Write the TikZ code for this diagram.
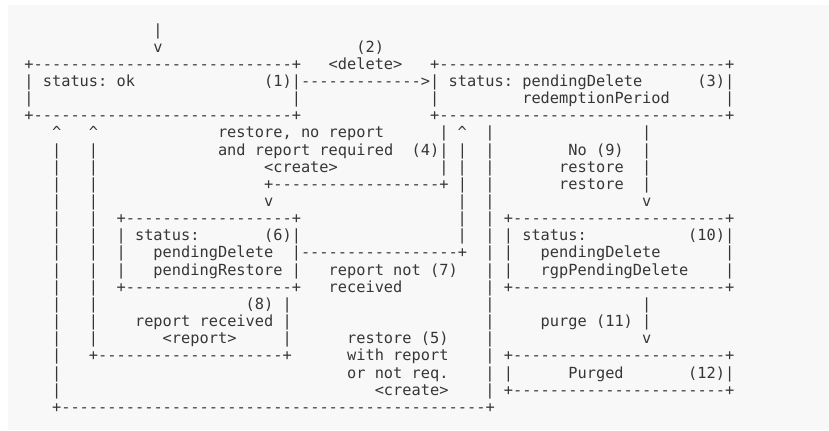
\documentclass[tikz,border=0pt]{standalone}
\usepackage{fontspec}
\setmonofont{DejaVu Sans Mono}
\usepackage{tikz}
\usetikzlibrary{
	calc,
	backgrounds,
}
\definecolor{asciiink}{HTML}{363636}
\definecolor{asciipanel}{HTML}{F8F8F8}
\newcommand\dashrun[1]{\foreach\k in {1,...,#1}{-}}
\tikzset{
	ascii/.style={anchor=base west, inner sep=0pt, outer sep=0pt,
		font=\ttfamily\fontsize{11.49}{14}\selectfont, text=asciiink},
}

\begin{document}
\begin{tikzpicture}[x=0.75pt, y=-0.75pt]
\useasboundingbox (0,0) rectangle (829,430);
\fill[asciipanel] (8,5) rectangle (829,430);
\foreach \r/\c/\t in {
	1/14/|,
	2/14/v, 2/36/(2),
	3/0/{+\dashrun{28}+}, 3/33/<delete>, 3/44/{+\dashrun{31}+},
	4/0/| status: ok, 4/26/{(1)|\dashrun{13}>| status: pendingDelete}, 4/73/(3)|,
	5/0/|, 5/29/|, 5/44/|, 5/54/redemptionPeriod, 5/76/|,
	6/0/{+\dashrun{28}+}, 6/44/{+\dashrun{31}+},
	7/3/\textasciicircum, 7/7/\textasciicircum, 7/21/{restore, no report},
	7/45/{| \textasciicircum}, 7/50/|, 7/67/|,
	8/3/|, 8/7/|, 8/21/and report required, 8/42/(4)| |, 8/50/|, 8/59/No (9), 8/67/|,
	9/3/|, 9/7/|, 9/26/<create>, 9/45/| |, 9/50/|, 9/58/restore, 9/67/|,
	10/3/|, 10/7/|, 10/26/{+\dashrun{18}+ |}, 10/50/|, 10/58/restore, 10/67/|,
	11/3/|, 11/7/|, 11/26/v, 11/47/|, 11/50/|, 11/67/v,
	12/3/|, 12/7/|, 12/10/{+\dashrun{18}+}, 12/47/|, 12/50/{| +\dashrun{23}+},
	13/3/|, 13/7/|, 13/10/| status:, 13/26/(6)|, 13/47/|, 13/50/| | status:, 13/72/(10)|,
	14/3/|, 14/7/|, 14/10/|, 14/14/pendingDelete, 14/29/{|\dashrun{17}+},
	14/50/| |, 14/56/pendingDelete, 14/76/|,
	15/3/|, 15/7/|, 15/10/|, 15/14/pendingRestore |, 15/33/report not (7),
	15/50/| |, 15/56/rgpPendingDelete, 15/76/|,
	16/3/|, 16/7/|, 16/10/{+\dashrun{18}+}, 16/33/received, 16/50/{| +\dashrun{23}+},
	17/3/|, 17/7/|, 17/24/(8) |, 17/50/|, 17/67/|,
	18/3/|, 18/7/|, 18/12/report received |, 18/50/|, 18/56/purge (11) |,
	19/3/|, 19/7/|, 19/15/<report>, 19/28/|, 19/35/restore (5), 19/50/|, 19/67/v,
	20/3/|, 20/7/{+\dashrun{20}+}, 20/35/with report, 20/50/{| +\dashrun{23}+},
	21/3/|, 21/35/or not req., 21/50/| |, 21/59/Purged, 21/72/(12)|,
	22/3/|, 22/38/<create>, 22/50/{| +\dashrun{23}+},
	23/3/{+\dashrun{46}+}%
}
	\node[ascii] (n\r-\c) at ({24.4+9.22*\c},{35+17.15*(\r-1)}) {\t};
\end{tikzpicture}
\end{document}
